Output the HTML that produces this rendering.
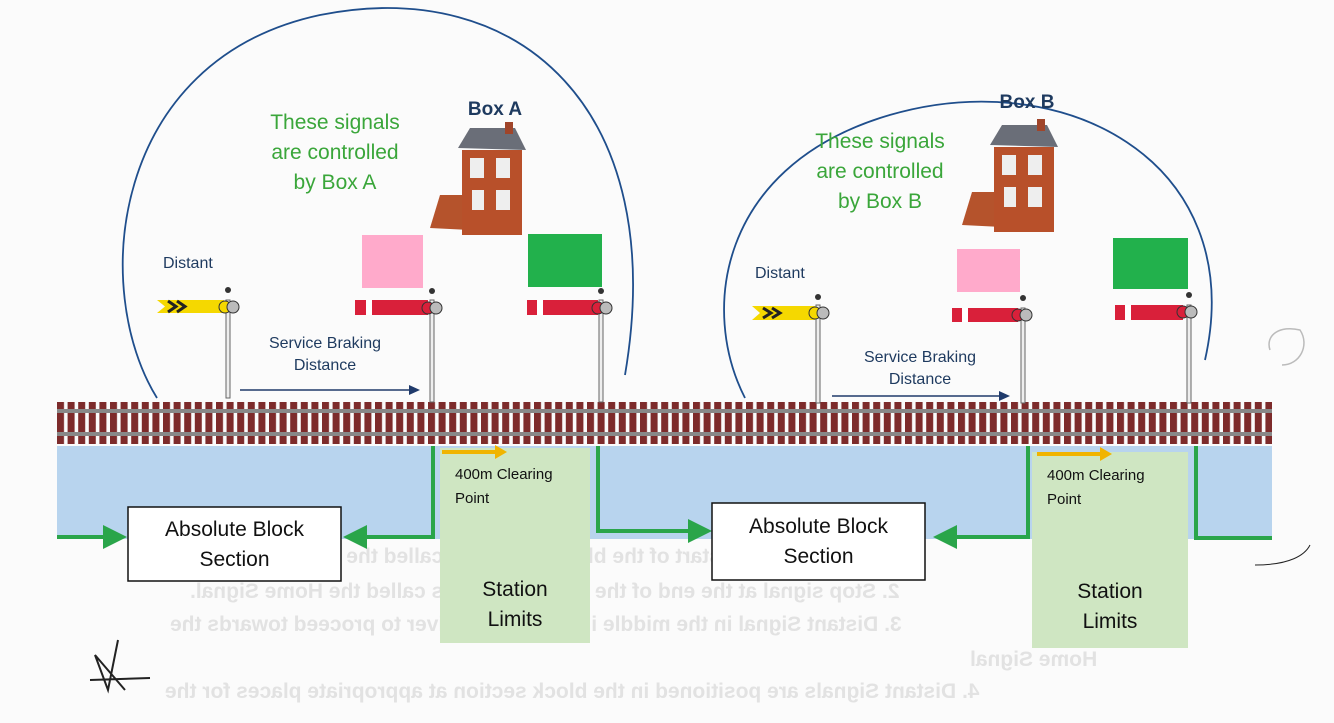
<!DOCTYPE html>
<html><head><meta charset="utf-8"><style>
html,body{margin:0;padding:0;background:#fff}
#c{position:relative;width:1334px;height:723px;overflow:hidden;background:#fbfbfb;font-family:"Liberation Sans",sans-serif}
.t{position:absolute;white-space:nowrap;text-align:center}
.g{color:#3aa63a;font-size:21px;line-height:30px}
.n{color:#1e3a5f;font-size:16px;line-height:22px}
.b{color:#1e3a5f;font-size:19px;font-weight:bold}
.k{color:#111;font-size:21px;line-height:30px}
.f{position:absolute;color:#e2e2e2;font-size:21px;font-weight:bold;white-space:nowrap;transform:scaleX(-1)}
</style></head><body><div id="c">
<div class="f" style="left:760px;top:458px;font-size:24px">Block Section – Signal Order</div>
<div class="f" style="left:190px;top:545px">1. Stop signal at the start of the block section is called the Section Signal.</div>
<div class="f" style="left:190px;top:580px">2. Stop signal at the end of the block section is called the Home Signal.</div>
<div class="f" style="left:170px;top:613px">3. Distant Signal in the middle instructs the driver to proceed towards the</div>
<div class="f" style="left:970px;top:648px">Home Signal</div>
<div class="f" style="left:165px;top:680px">4. Distant Signals are positioned in the block section at appropriate places for the</div>
<svg width="1334" height="723" style="position:absolute;left:0;top:0">
<defs>
<pattern id="ties" x="57" y="0" width="10.6" height="50" patternUnits="userSpaceOnUse"><rect x="0" y="0" width="7" height="50" fill="#7d2b2b"/></pattern>
<marker id="ga" markerWidth="6" markerHeight="6" refX="3" refY="3" orient="auto"><path d="M0,0L6,3L0,6z" fill="#2aa54a"/></marker>
</defs>
<rect x="57" y="446" width="1215" height="93" fill="#b8d4ee"/>
<rect x="440" y="448" width="150" height="195" fill="#cfe6c2"/>
<rect x="1032" y="452" width="156" height="196" fill="#cfe6c2"/>
<rect x="57" y="402" width="1215" height="42" fill="url(#ties)"/>
<rect x="57" y="409" width="1215" height="4" fill="#888"/>
<rect x="57" y="432" width="1215" height="4" fill="#888"/>
<path d="M157,398 C90,290 110,60 320,15 C520,-25 670,110 625,375" fill="none" stroke="#1f4e8c" stroke-width="1.8"/>
<path d="M745,398 C700,310 720,170 880,118 C1060,60 1250,160 1205,360" fill="none" stroke="#1f4e8c" stroke-width="1.8"/>
<g stroke="#2aa54a" stroke-width="4" fill="none">
<path d="M57,537 H115" marker-end="url(#ga)"/>
<path d="M433,446 V537 H355" marker-end="url(#ga)"/>
<path d="M598,446 V531 H700" marker-end="url(#ga)"/>
<path d="M1028,446 V537 H945" marker-end="url(#ga)"/>
<path d="M1196,446 V538 H1272"/>
</g>
<path d="M442,452 H498" stroke="#f0b400" stroke-width="4"/><path d="M495,445 L507,452 L495,459z" fill="#f0b400"/>
<path d="M1037,454 H1102" stroke="#f0b400" stroke-width="4"/><path d="M1100,447 L1112,454 L1100,461z" fill="#f0b400"/>
<path d="M240,390 H410" stroke="#1f3a6b" stroke-width="1.5"/><path d="M409,385 L420,390 L409,395z" fill="#1f3a6b"/>
<path d="M832,396 H1000" stroke="#1f3a6b" stroke-width="1.5"/><path d="M999,391 L1010,396 L999,401z" fill="#1f3a6b"/>
<g fill="#eee" stroke="#666" stroke-width="1">
<rect x="226" y="300" width="4" height="98"/><rect x="430" y="300" width="4" height="102"/><rect x="599" y="300" width="4" height="102"/>
<rect x="816" y="305" width="4" height="98"/><rect x="1021" y="308" width="4" height="95"/><rect x="1187" y="305" width="4" height="98"/>
</g>
<rect x="362" y="235" width="61" height="53" fill="#ffaacb"/>
<rect x="528" y="234" width="74" height="53" fill="#22b14c"/>
<rect x="957" y="249" width="63" height="43" fill="#ffaacb"/>
<rect x="1113" y="238" width="75" height="51" fill="#22b14c"/>
<g>
<path d="M157,300 H224 V313 H157 L165,306.5z" fill="#f5d800"/><path d="M168,301 L176,306.5 L168,312 M177,301 L185,306.5 L177,312" stroke="#222" stroke-width="3" fill="none"/>
<circle cx="225" cy="307" r="6" fill="#f5d800" stroke="#333"/><circle cx="233" cy="307" r="6" fill="#bbb" stroke="#333"/><circle cx="228" cy="290" r="3" fill="#333"/>
<path d="M752,306 H815 V320 H752 L760,313z" fill="#f5d800"/><path d="M763,308 L771,313 L763,318 M772,308 L780,313 L772,318" stroke="#222" stroke-width="3" fill="none"/>
<circle cx="815" cy="313" r="6" fill="#f5d800" stroke="#333"/><circle cx="823" cy="313" r="6" fill="#bbb" stroke="#333"/><circle cx="818" cy="297" r="3" fill="#333"/>
</g>
<g>
<rect x="355" y="300" width="73" height="15" fill="#d9203a"/><rect x="366" y="300" width="6" height="15" fill="#fff"/>
<circle cx="428" cy="308" r="6" fill="#d9203a" stroke="#333"/><circle cx="436" cy="308" r="6" fill="#bbb" stroke="#333"/><circle cx="432" cy="291" r="3" fill="#333"/>
<rect x="527" y="300" width="71" height="15" fill="#d9203a"/><rect x="537" y="300" width="6" height="15" fill="#fff"/>
<circle cx="598" cy="308" r="6" fill="#d9203a" stroke="#333"/><circle cx="606" cy="308" r="6" fill="#bbb" stroke="#333"/><circle cx="601" cy="291" r="3" fill="#333"/>
<rect x="952" y="308" width="66" height="14" fill="#d9203a"/><rect x="962" y="308" width="6" height="14" fill="#fff"/>
<circle cx="1018" cy="315" r="6" fill="#d9203a" stroke="#333"/><circle cx="1026" cy="315" r="6" fill="#bbb" stroke="#333"/><circle cx="1023" cy="298" r="3" fill="#333"/>
<rect x="1115" y="305" width="68" height="15" fill="#d9203a"/><rect x="1125" y="305" width="6" height="15" fill="#fff"/>
<circle cx="1183" cy="312" r="6" fill="#d9203a" stroke="#333"/><circle cx="1191" cy="312" r="6" fill="#bbb" stroke="#333"/><circle cx="1189" cy="295" r="3" fill="#333"/>
</g>
<g id="h1">
<path d="M440,195 L430,228 L470,230 L470,195z" fill="#b5532c"/>
<path d="M458,148 L470,128 L515,128 L526,150z" fill="#6a6e78"/>
<rect x="462" y="150" width="60" height="85" fill="#b8502a"/>
<rect x="470" y="158" width="14" height="20" fill="#eee"/><rect x="496" y="158" width="14" height="20" fill="#eee"/>
<rect x="472" y="190" width="12" height="20" fill="#eee"/><rect x="496" y="190" width="14" height="20" fill="#eee"/>
<rect x="505" y="122" width="8" height="12" fill="#a0452a"/>
</g>
<use href="#h1" x="532" y="-3"/>
<rect x="128" y="507" width="213" height="74" fill="#fff" stroke="#111" stroke-width="1.5"/>
<rect x="712" y="503" width="213" height="77" fill="#fff" stroke="#111" stroke-width="1.5"/>
</svg>
<div class="t g" style="left:235px;top:108px;width:200px">These signals<br>are controlled<br>by Box A</div>
<div class="t g" style="left:780px;top:127px;width:200px">These signals<br>are controlled<br>by Box B</div>
<div class="t b" style="left:445px;top:99px;width:100px">Box A</div>
<div class="t b" style="left:977px;top:92px;width:100px">Box B</div>
<div class="t n" style="left:163px;top:253px;text-align:left">Distant</div>
<div class="t n" style="left:755px;top:263px;text-align:left">Distant</div>
<div class="t n" style="left:245px;top:333px;width:160px">Service Braking<br>Distance</div>
<div class="t n" style="left:840px;top:347px;width:160px">Service Braking<br>Distance</div>
<div class="t" style="left:455px;top:463px;font-size:15px;line-height:24px;color:#111;text-align:left">400m Clearing<br>Point</div>
<div class="t" style="left:1047px;top:464px;font-size:15px;line-height:24px;color:#111;text-align:left">400m Clearing<br>Point</div>
<div class="t k" style="left:128px;top:515px;width:213px">Absolute Block<br>Section</div>
<div class="t k" style="left:712px;top:512px;width:213px">Absolute Block<br>Section</div>
<div class="t k" style="left:440px;top:575px;width:150px">Station<br>Limits</div>
<div class="t k" style="left:1032px;top:577px;width:156px">Station<br>Limits</div>
<svg width="1334" height="723" style="position:absolute;left:0;top:0">
<path d="M1270,350 C1265,335 1280,325 1300,330 C1310,345 1300,365 1282,365" fill="none" stroke="#bbb" stroke-width="1.5"/>
<path d="M1255,565 C1290,565 1305,555 1310,545" fill="none" stroke="#222" stroke-width="1"/>
<path d="M118,640 L108,690 L95,655 L125,690 M90,680 L150,678" fill="none" stroke="#222" stroke-width="2"/>
</svg>
</div></body></html>
